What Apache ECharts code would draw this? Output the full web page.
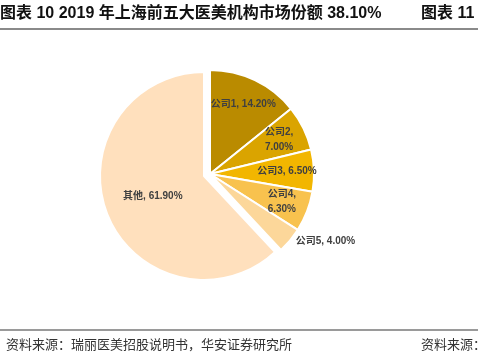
<!DOCTYPE html>
<html><head><meta charset="utf-8">
<script src="https://cdn.jsdelivr.net/npm/echarts@6/dist/echarts.min.js"></script>
<style>html,body{margin:0;padding:0;background:#fff}#c{width:478px;height:361px}</style>
</head><body><div id="c"></div>
<script>
const categories = ['公司1', '公司2', '公司3', '公司4', '公司5', '其他'];
const values = [14.20, 7.00, 6.50, 6.30, 4.00, 61.90];
const colors = ['#BA8B00', '#DAA400', '#F2B600', '#F8C24E', '#FCD79A', '#FFE0BD'];
const labelText = ['公司1, 14.20%', '公司2,\n7.00%', '公司3, 6.50%', '公司4,\n6.30%', '公司5, 4.00%', '其他, 61.90%'];
const titleText = '图表 10 2019 年上海前五大医美机构市场份额 38.10%';
const sourceText = '资料来源：瑞丽医美招股说明书，华安证券研究所';

const chart = echarts.init(document.getElementById('c'), null, {renderer: 'canvas'});
const lblFont = {fontSize: 10, fontWeight: 'bold', color: '#404040', fontFamily: 'Arial, "Liberation Sans", "Noto Sans CJK SC"', lineHeight: 15};
const otherIdx = categories.length - 1;

function mk(visibleFn) {
  return categories.map((c, i) => ({
    name: c, value: values[i],
    itemStyle: visibleFn(i) ? {color: colors[i], borderColor: '#fff', borderWidth: 2}
                            : {color: 'rgba(0,0,0,0)', borderWidth: 0}
  }));
}
const common = {type: 'pie', startAngle: 90, clockwise: true, silent: true, animation: false,
  emphasis: {disabled: true}, labelLine: {show: false}};

chart.setOption({
  graphic: [
    {type: 'text', left: 0, top: 6, style: {text: titleText, font: 'bold 16px Arial, "Noto Sans CJK SC"', fill: '#111'}},
    {type: 'text', left: 421, top: 6, style: {text: '图表 11', font: 'bold 16px Arial, "Noto Sans CJK SC"', fill: '#111'}},
    {type: 'rect', shape: {x: 0, y: 28, width: 478, height: 2}, style: {fill: '#8a8a8a'}},
    {type: 'rect', shape: {x: 0, y: 329, width: 478, height: 2}, style: {fill: '#9a9a9a'}},
    {type: 'text', left: 6, top: 338, style: {text: sourceText, font: '13px "Noto Sans CJK SC"', fill: '#333'}},
    {type: 'text', left: 421, top: 338, style: {text: '资料来源：', font: '13px "Noto Sans CJK SC"', fill: '#333'}}
  ],
  series: [
    Object.assign({}, common, {center: [204, 176], radius: [0, 104],
      data: mk(i => i === otherIdx).map((d, i) => Object.assign(d, {label: {show: i === otherIdx, position: 'inside', formatter: labelText[i], ...lblFont}}))
    }),
    Object.assign({}, common, {center: [210, 174], radius: [0, 104],
      label: {show: false},
      data: mk(i => i !== otherIdx)
    }),
    Object.assign({}, common, {center: [210, 174], radius: [44, 104],
      data: mk(() => false).map((d, i) => Object.assign(d, {
        label: i === otherIdx ? {show: false} :
          (i === 4 ? {show: true, position: 'outside', formatter: labelText[i], ...lblFont} :
                     {show: true, position: 'inside', formatter: labelText[i], ...lblFont})
      })),
      labelLine: {show: false, length: 1, length2: 0}
    })
  ]
});
</script></body></html>
